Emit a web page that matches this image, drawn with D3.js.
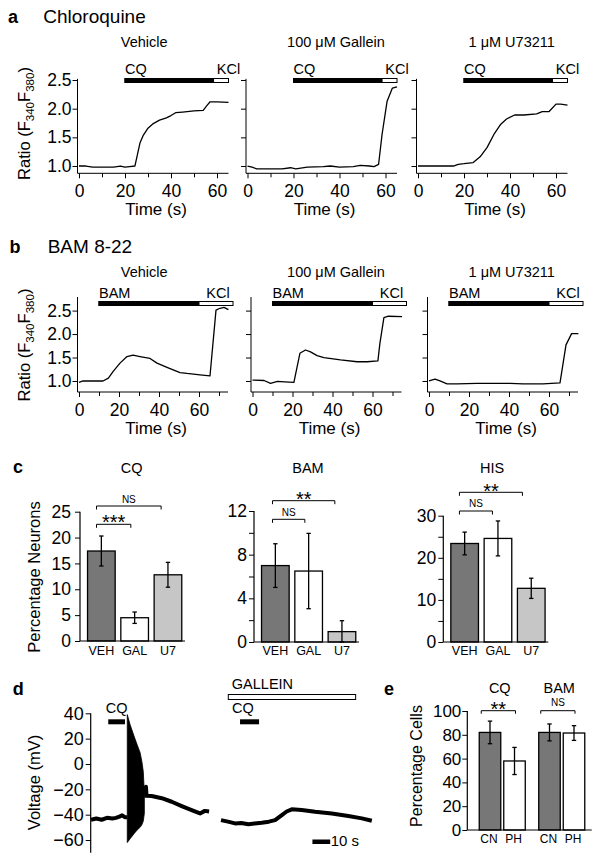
<!DOCTYPE html>
<html><head><meta charset="utf-8">
<script src="https://cdn.jsdelivr.net/npm/d3@7"></script>
<style>
body{margin:0;background:#fff}
svg{display:block}
text{font-family:"Liberation Sans",Arial,Helvetica,sans-serif;fill:#000}
</style>
</head><body>
<svg id="chart" width="602" height="863"></svg>
<script>
// ---------------- DATA ----------------
// Row a: Chloroquine (time s, ratio F340/F380)
const aVehT = [0, 3, 6, 10, 15, 18, 20, 22, 24.3, 26.5, 28, 30, 32.3, 35, 38, 40, 42, 45, 50, 54, 55.5, 57, 60, 65];
const aVehR = [1.0, 1.0, 0.98, 0.98, 0.98, 1.0, 0.98, 0.99, 1.0, 1.40, 1.54, 1.66, 1.74, 1.80, 1.84, 1.88, 1.93, 1.94, 1.96, 1.97, 2.05, 2.12, 2.12, 2.11];
const aGalT = [0, 2, 4, 10, 15, 18.7, 21, 26, 33, 36, 40, 46, 49, 53, 55, 57, 58.5, 60.7, 63, 65];
const aGalR = [1.0, 0.98, 0.95, 0.95, 0.95, 0.97, 0.95, 0.98, 0.99, 1.0, 0.98, 0.99, 1.01, 1.0, 0.99, 1.03, 1.55, 2.13, 2.36, 2.38];
const aU7T = [0, 15.4, 17.5, 20, 24, 27, 30, 33, 36, 38.5, 42, 46, 51.6, 54, 57, 60, 62, 65];
const aU7R = [1.0, 1.0, 1.03, 1.04, 1.06, 1.16, 1.32, 1.55, 1.73, 1.82, 1.89, 1.89, 1.91, 1.95, 1.95, 2.08, 2.08, 2.06];
const aTicks = [0, 20, 40, 60];
const aMinor = [10, 30, 50];
const ratioTicks = [1.0, 1.5, 2.0, 2.5];
const aTitles = ["Vehicle", "100 \u03bcM Gallein", "1 \u03bcM U73211"];
const cqBar = [20, 58.5, 65];   // start, KCl switch, end

// Row b: BAM 8-22
const bVehT = [0, 2, 12, 14.7, 17, 20.5, 24, 27, 30.5, 35.5, 39, 44, 50.5, 54, 60.5, 65.5, 68.5, 70.5, 72.5, 74.7];
const bVehR = [0.97, 1.0, 1.0, 1.06, 1.2, 1.38, 1.52, 1.55, 1.52, 1.48, 1.38, 1.29, 1.18, 1.16, 1.13, 1.11, 2.51, 2.55, 2.57, 2.52];
const bGalT = [0, 5.8, 9, 12.5, 16, 20.7, 23.7, 26.5, 29, 32.3, 35.7, 44, 52.3, 57.3, 62.7, 63.7, 65.7, 68, 74.8];
const bGalR = [1.02, 1.01, 0.95, 0.99, 0.98, 0.97, 1.59, 1.66, 1.62, 1.54, 1.5, 1.45, 1.41, 1.41, 1.43, 1.8, 2.35, 2.38, 2.37];
const bU7T = [0, 3, 5.5, 9, 14, 24, 30.5, 40.5, 47, 57, 65.5, 68.5, 71.3, 74.7];
const bU7R = [1.0, 1.04, 1.0, 0.94, 0.94, 0.95, 0.95, 0.95, 0.94, 0.94, 0.96, 1.77, 2.01, 2.01];
const bTicks = [0, 20, 40, 60];
const bMinor = [10, 30, 50, 70];
const bamBar = [10, 60, 77];

// Row c: bar charts (percentage neurons)
const cCats = ["VEH", "GAL", "U7"];
const cqMean = [17.4, 4.5, 12.8];
const cqErr = [2.9, 1.1, 2.4];
const bamMean = [7.0, 6.5, 0.95];
const bamErr = [2.0, 3.45, 1.0];
const hisMean = [23.4, 24.6, 12.75];
const hisErr = [2.7, 4.15, 2.4];
const cqTicks = [0, 5, 10, 15, 20, 25];
const bamTicks = [0, 4, 8, 12];
const bamMinor = [2, 6, 10];
const hisTicks = [0, 10, 20, 30];
const hisMinor = [5, 15, 25];

// Row d: voltage traces (time s, mV)
const tr1T = [0, 3, 6, 9, 12, 14, 16, 17.5, 19, 20.4];
const tr1V = [-44, -43, -44, -42.5, -43, -42.5, -41.5, -40.5, -42, -42];
const burstT = [20.4, 22, 24.2, 26, 27.6, 28.6, 29.4, 30];
const burstTop = [39, 31, 22, 15, 9, 2, -6, -23];
const burstBot = [-62, -59, -55, -52, -50, -48, -45, -39];
const tr1bT = [30, 30.6, 30.9, 31.2, 34.1, 39.8, 45.4, 51, 56.6, 61.3, 64, 66.4];
const tr1bV = [-25, -25, -18, -25, -25.3, -27, -29.8, -33.2, -36.4, -39, -37, -37.5];
const tr2T = [73.1, 77, 81, 84.5, 88.5, 92, 96, 100, 103.5, 107.3, 110, 112.9, 118.5, 126, 135.4, 144.7, 152.3, 157.9];
const tr2V = [-44.3, -45.5, -46.9, -46.5, -47.5, -47, -46.4, -45.5, -44.3, -40.3, -37.5, -35.8, -36.3, -37.7, -39, -41.1, -42.9, -44.8];
const vTicks = [-60, -40, -20, 0, 20, 40];
const cq1 = [9.7, 19.1];
const cq2 = [83.8, 94.5];
const galleinBar = [77.2, 148.8];
const scaleBar = [124.5, 134.5];

// Row e: percentage cells
const eGroups = ["CQ", "BAM"];
const eCats = ["CN", "PH"];
const eCqMean = [82, 58];
const eCqErr = [9.5, 11.4];
const eBamMean = [82, 81.5];
const eBamErr = [7.1, 6.2];
const eTicks = [0, 20, 40, 60, 80, 100];

// ---------------- DRAWING ----------------
const svg = d3.select("#chart");
const FF = '"Liberation Sans", Arial, Helvetica, sans-serif';
const TICKFS = 17.5;

function txt(x, y, s, fs, anchor = "start", weight = "normal") {
  return svg.append("text").attr("x", x).attr("y", y).attr("font-size", fs)
    .attr("text-anchor", anchor).attr("font-weight", weight).text(s);
}
function line(x1, y1, x2, y2, w = 1) {
  svg.append("line").attr("x1", x1).attr("y1", y1).attr("x2", x2).attr("y2", y2)
    .attr("stroke", "#000").attr("stroke-width", w);
}
function styleAxis(g, fs) {
  g.attr("font-family", FF).attr("font-size", fs);
  g.select(".domain").remove();
  g.selectAll("line").attr("stroke-width", 1);
}
function rotLabel(x, y, fs, parts) {
  const t = svg.append("text").attr("transform", `translate(${x},${y}) rotate(-90)`)
    .attr("font-size", fs).attr("text-anchor", "middle");
  parts.forEach(p => {
    const ts = t.append("tspan").text(p.s);
    if (p.sub) ts.attr("font-size", fs * 0.7).attr("dy", p.dy);
    else if (p.dy) ts.attr("dy", p.dy);
  });
}

// ----- Rows a and b -----
const rowA = { axisY: 173.3, y: d3.scaleLinear().domain([0.873, 2.5]).range([173.3, 80]), yTop: 2.52,
  px: 2.3, tMax: 65, ticks: aTicks, minor: aMinor, barY: 80.5, labelBase: 74, titleBase: 46.7,
  tickBase: 197.3, timeBase: 215, drug: "CQ", bar: cqBar, kclMode: "a" };
const rowB = { axisY: 392, y: d3.scaleLinear().domain([0.765, 2.79]).range([392, 297]), yTop: 2.79,
  px: 2.0, tMax: 74.5, ticks: bTicks, minor: bMinor, barY: 303.5, labelBase: 298.3, titleBase: 276.7,
  tickBase: 416, timeBase: 434, drug: "BAM", bar: bamBar, kclMode: "b" };

function tracePanel(row, x0, T, R, showY, title, titleX) {
  const x = d3.scaleLinear().domain([0, row.tMax]).range([x0, x0 + row.tMax * row.px]);
  const y = row.y;
  // axes lines
  line(x0 - 1.5, row.axisY, x(row.tMax), row.axisY);
  line(x0 - 1.5, row.axisY, x0 - 1.5, y(row.yTop));
  const gx = svg.append("g").attr("transform", `translate(0,${row.axisY})`)
    .call(d3.axisBottom(x).tickValues(row.ticks).tickSize(5).tickSizeOuter(0).tickFormat(d3.format("d")));
  styleAxis(gx, TICKFS);
  gx.selectAll("text").attr("dy", null).attr("y", row.tickBase - row.axisY);
  const gm = svg.append("g").attr("transform", `translate(0,${row.axisY})`)
    .call(d3.axisBottom(x).tickValues(row.minor).tickSize(4).tickSizeOuter(0).tickFormat(""));
  styleAxis(gm, TICKFS);
  const gy = svg.append("g").attr("transform", `translate(${x0 - 1.5},0)`)
    .call(d3.axisLeft(y).tickValues(ratioTicks).tickSize(5).tickSizeOuter(0).tickPadding(1).tickFormat(showY ? d3.format(".1f") : ""));
  styleAxis(gy, TICKFS);
  // trace
  svg.append("path").datum(T.map((t, i) => [t, R[i]]))
    .attr("d", d3.line().x(d => x(d[0])).y(d => y(d[1])))
    .attr("fill", "none").attr("stroke", "#000").attr("stroke-width", 1.3).attr("stroke-linejoin", "round");
  // drug bar
  const [s, k, e] = row.bar;
  svg.append("rect").attr("x", x(s)).attr("y", row.barY - 2).attr("width", x(e) - x(s)).attr("height", 4)
    .attr("fill", "#fff").attr("stroke", "#000").attr("stroke-width", 1);
  svg.append("rect").attr("x", x(s)).attr("y", row.barY - 2).attr("width", x(k) - x(s)).attr("height", 4)
    .attr("fill", "#000").attr("stroke", "#000").attr("stroke-width", 1);
  txt(x(s), row.labelBase, row.drug, 14.5);
  if (row.kclMode === "a") txt(x(e), row.labelBase, "KCl", 14.5, "middle");
  else txt(x(e) - 15, row.labelBase, "KCl", 14.5, "middle");
  // titles
  txt(titleX, row.titleBase, title, 14.5, "middle");
  txt(x0 + 77, row.timeBase, "Time (s)", 17, "middle");
}

txt(8, 23.3, "a", 18, "start", "bold");
txt(43.3, 23.3, "Chloroquine", 19);
const titleXs = [144.2, 336, 511.7];
tracePanel(rowA, 79, aVehT, aVehR, true, aTitles[0], titleXs[0]);
tracePanel(rowA, 247.5, aGalT, aGalR, false, aTitles[1], titleXs[1]);
tracePanel(rowA, 418, aU7T, aU7R, false, aTitles[2], titleXs[2]);
rotLabel(30, 123.5, 16.5, [{s: "Ratio (F"}, {s: "340", sub: true, dy: 4}, {s: "F", dy: -4}, {s: "380", sub: true, dy: 4}, {s: ")", dy: -4}]);

txt(9.5, 253, "b", 18, "start", "bold");
txt(47.7, 252.7, "BAM 8-22", 19);
tracePanel(rowB, 79, bVehT, bVehR, true, aTitles[0], titleXs[0]);
tracePanel(rowB, 252.5, bGalT, bGalR, false, aTitles[1], titleXs[1]);
tracePanel(rowB, 429, bU7T, bU7R, false, aTitles[2], titleXs[2]);
rotLabel(30, 345, 16.5, [{s: "Ratio (F"}, {s: "340", sub: true, dy: 4}, {s: "F", dy: -4}, {s: "380", sub: true, dy: 4}, {s: ")", dy: -4}]);

// ----- Row c -----
const cFills = ["#777777", "#ffffff", "#c6c6c6"];
function errBar(xc, y1, y2, cap = 2.2) {
  line(xc, y1, xc, y2, 1.3);
  line(xc - cap, y1, xc + cap, y1, 1.3);
  line(xc - cap, y2, xc + cap, y2, 1.3);
}
function bracket(x1, x2, yv, drop = 3.5) {
  svg.append("path").attr("d", `M${x1},${yv + drop}V${yv}H${x2}V${yv + drop}`)
    .attr("fill", "none").attr("stroke", "#000").attr("stroke-width", 1);
}
function barPanel(o) {
  const y = d3.scaleLinear().domain([0, o.max]).range([o.y0, o.yTop]);
  const x = d3.scaleBand().domain(cCats).range([o.axisX + 4.7, o.axisX + 104.6]).paddingInner(0.17).paddingOuter(0.085);
  cCats.forEach((c, i) => {
    svg.append("rect").attr("x", x(c)).attr("y", y(o.mean[i])).attr("width", x.bandwidth())
      .attr("height", y(0) - y(o.mean[i])).attr("fill", cFills[i]).attr("stroke", "#000").attr("stroke-width", 1.3);
  });
  cCats.forEach((c, i) => {
    const xc = x(c) + x.bandwidth() / 2;
    errBar(xc, y(o.mean[i] + o.err[i]), y(Math.max(0, o.mean[i] - o.err[i])));
  });
  line(o.axisX, y(0), o.axisX + 105, y(0), 1.2);
  line(o.axisX, y(0), o.axisX, y(o.max), 1.2);
  const gy = svg.append("g").attr("transform", `translate(${o.axisX},0)`)
    .call(d3.axisLeft(y).tickValues(o.ticks).tickSize(5).tickSizeOuter(0).tickPadding(o.pad).tickFormat(d3.format("d")));
  styleAxis(gy, TICKFS);
  if (o.minor) {
    const gm = svg.append("g").attr("transform", `translate(${o.axisX},0)`)
      .call(d3.axisLeft(y).tickValues(o.minor).tickSize(5).tickSizeOuter(0).tickFormat(""));
    styleAxis(gm, TICKFS);
  }
  cCats.forEach(c => txt(x(c) + x.bandwidth() / 2, 655, c, 12.5, "middle"));
  txt(o.titleX, 473, o.title, 14.5, "middle");
  // brackets: [catA, catB, y, label, labelBaseline, isStar]
  o.brackets.forEach(b => {
    const x1 = x(b[0]) + b[5], x2 = x(b[1]) + b[6];
    bracket(x1, x2, b[2]);
    txt((x1 + x2) / 2, b[4], b[3], b[3] === "NS" ? 10 : 20, "middle");
  });
}
txt(13, 473.3, "c", 18, "start", "bold");
barPanel({ axisX: 80, max: 25, y0: 641, yTop: 511.7, ticks: cqTicks, pad: 4, mean: cqMean, err: cqErr,
  title: "CQ", titleX: 131.7,
  brackets: [["VEH", "U7", 506, "NS", 502.7, 9, 7], ["VEH", "GAL", 524.3, "***", 528.5, 9, 10]] });
barPanel({ axisX: 254, max: 12, y0: 642, yTop: 511, ticks: bamTicks, minor: bamMinor, pad: 2, mean: bamMean, err: bamErr,
  title: "BAM", titleX: 308,
  brackets: [["VEH", "GAL", 519.3, "NS", 516, 11, 10], ["VEH", "U7", 500.7, "**", 506, 11, 6.7]] });
barPanel({ axisX: 443.3, max: 30, y0: 642, yTop: 515.7, ticks: hisTicks, minor: hisMinor, pad: 2, mean: hisMean, err: hisErr,
  title: "HIS", titleX: 492,
  brackets: [["VEH", "GAL", 511, "NS", 507.3, 8.6, 8.3], ["VEH", "U7", 492.3, "**", 497.6, 8.6, 5]] });
rotLabel(40, 577, 16.5, [{s: "Percentage Neurons"}]);

// ----- Row d -----
txt(12.7, 695, "d", 18, "start", "bold");
const xd = d3.scaleLinear().domain([0, 158]).range([91, 372]);
const yd = d3.scaleLinear().domain([-70, 40]).range([852.7, 713.3]);
line(90.7, yd(-70), 90.7, yd(40), 1.2);
const gyd = svg.append("g").attr("transform", "translate(90.7,0)")
  .call(d3.axisLeft(yd).tickValues(vTicks).tickSize(5).tickSizeOuter(0).tickPadding(2).tickFormat(d3.format("d")));
styleAxis(gyd, 18);
const traceLine = d3.line().x(d => xd(d[0])).y(d => yd(d[1]));
[[tr1T, tr1V], [tr1bT, tr1bV], [tr2T, tr2V]].forEach(([T, V]) => {
  svg.append("path").datum(T.map((t, i) => [t, V[i]])).attr("d", traceLine)
    .attr("fill", "none").attr("stroke", "#000").attr("stroke-width", 4).attr("stroke-linejoin", "round");
});
svg.append("path").datum(burstT.map((t, i) => [t, burstTop[i], burstBot[i]]))
  .attr("d", d3.area().x(d => xd(d[0])).y0(d => yd(d[2])).y1(d => yd(d[1])))
  .attr("fill", "#000").attr("stroke", "#000").attr("stroke-width", 0.8);
// stimulus bars
svg.append("rect").attr("x", xd(cq1[0])).attr("y", 719.3).attr("width", xd(cq1[1]) - xd(cq1[0])).attr("height", 5).attr("fill", "#000");
txt((xd(cq1[0]) + xd(cq1[1])) / 2, 713.3, "CQ", 14.5, "middle");
svg.append("rect").attr("x", xd(cq2[0])).attr("y", 719.3).attr("width", xd(cq2[1]) - xd(cq2[0])).attr("height", 5).attr("fill", "#000");
txt(xd(cq2[0]) - 8, 713.3, "CQ", 14.5, "start");
svg.append("rect").attr("x", xd(galleinBar[0])).attr("y", 694.5).attr("width", xd(galleinBar[1]) - xd(galleinBar[0])).attr("height", 5)
  .attr("fill", "#fff").attr("stroke", "#000").attr("stroke-width", 1);
txt(xd(galleinBar[0]) + 3.5, 688.5, "GALLEIN", 14.5, "start");
svg.append("rect").attr("x", xd(scaleBar[0])).attr("y", 839.5).attr("width", xd(scaleBar[1]) - xd(scaleBar[0])).attr("height", 4.5).attr("fill", "#000");
txt(xd(scaleBar[1]) + 0.5, 846, "10 s", 15, "start");
rotLabel(40, 782.5, 16.5, [{s: "Voltage (mV)"}]);

// ----- Row e -----
txt(384, 695, "e", 18, "start", "bold");
const ye = d3.scaleLinear().domain([0, 100]).range([830, 711]);
const xg = d3.scaleBand().domain(eGroups).range([472.5, 591.5]);
const xi = d3.scaleBand().domain(eCats).range([0, xg.bandwidth()]).paddingInner(0.122).paddingOuter(0.275);
const eFills = ["#777777", "#ffffff"];
[[eCqMean, eCqErr], [eBamMean, eBamErr]].forEach(([M, E], gi) => {
  const g0 = xg(eGroups[gi]);
  eCats.forEach((c, i) => {
    svg.append("rect").attr("x", g0 + xi(c)).attr("y", ye(M[i])).attr("width", xi.bandwidth())
      .attr("height", ye(0) - ye(M[i])).attr("fill", eFills[i]).attr("stroke", "#000").attr("stroke-width", 1.3);
  });
  eCats.forEach((c, i) => {
    const xc = g0 + xi(c) + xi.bandwidth() / 2;
    errBar(xc, ye(M[i] + E[i]), ye(M[i] - E[i]));
    txt(xc - 1, 843, c, 12, "middle");
  });
  const x1 = g0 + xi("CN") + 2, x2 = g0 + xi("PH") + xi.bandwidth() / 2 + 1;
  bracket(x1, x2, 710.7, 3);
  txt((x1 + x2) / 2, gi === 0 ? 716 : 706, gi === 0 ? "**" : "NS", gi === 0 ? 20 : 10, "middle");
  txt(g0 + xg.bandwidth() / 2 - 2.5, 693.3, eGroups[gi], 14.5, "middle");
});
line(467.3, ye(0), 591.7, ye(0), 1.2);
line(467.3, ye(0), 467.3, ye(100), 1.2);
const gye = svg.append("g").attr("transform", "translate(467.3,0)")
  .call(d3.axisLeft(ye).tickValues(eTicks).tickSize(5).tickSizeOuter(0).tickPadding(1).tickFormat(d3.format("d")));
styleAxis(gye, 17);
rotLabel(421.5, 766, 16, [{s: "Percentage Cells"}]);
</script>
</body></html>
